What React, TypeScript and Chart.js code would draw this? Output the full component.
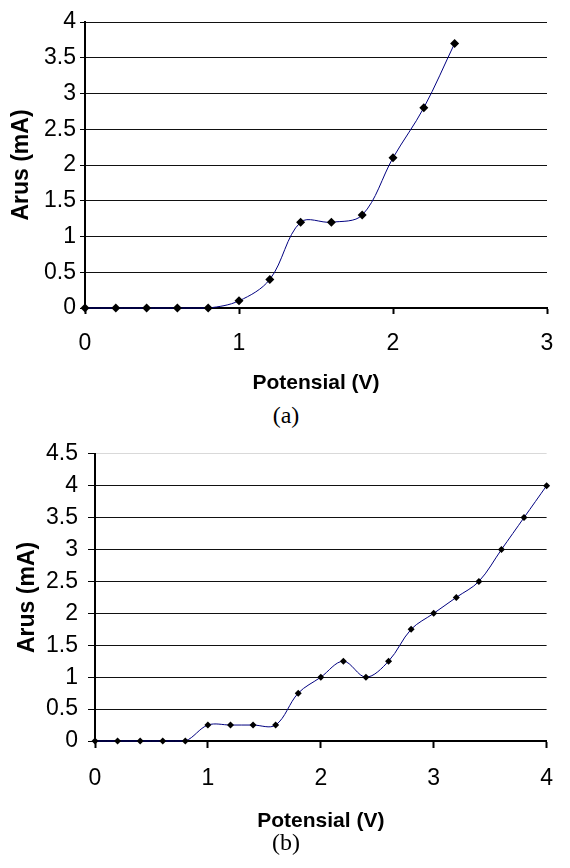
import React, { useEffect, useRef } from "react";
import { Chart, registerables } from "chart.js";

Chart.register(...registerables);

// ---- Data ----
const voltageA = [0, 0.2, 0.4, 0.6, 0.8, 1.0, 1.2, 1.4, 1.6, 1.8, 2.0, 2.2, 2.4];
const currentA = [0, 0, 0, 0, 0, 0.1, 0.4, 1.2, 1.2, 1.3, 2.1, 2.8, 3.7];

const voltageB = [0, 0.2, 0.4, 0.6, 0.8, 1.0, 1.2, 1.4, 1.6, 1.8, 2.0, 2.2, 2.4, 2.6, 2.8, 3.0, 3.2, 3.4, 3.6, 3.8, 4.0];
const currentB = [0, 0, 0, 0, 0, 0.25, 0.25, 0.25, 0.25, 0.75, 1, 1.25, 1, 1.25, 1.75, 2, 2.25, 2.5, 3, 3.5, 4];

const xTitle = "Potensial (V)";
const yTitle = "Arus (mA)";
const captionA = "(a)";
const captionB = "(b)";

const FONT = "'Liberation Sans', Arial, sans-serif";

type Geo = {
  width: number;
  height: number;
  padTop: number;
  padRight: number;
  yWidth: number;
  xHeight: number;
  xMax: number;
  yMax: number;
  yTickLen: number;
  yTickPad: number;
  xTickLen: number;
  xTickPad: number;
  yTitlePad: number;
  xTitlePad: number;
  pointR: number;
  topGridLight: boolean;
};

function makeConfig(xs: number[], ys: number[], g: Geo): any {
  const pts = xs.map((x, i) => ({ x, y: ys[i] }));
  return {
    type: "line",
    data: {
      datasets: [
        {
          data: pts,
          borderColor: "#000080",
          borderWidth: 1,
          tension: 0.35,
          pointStyle: "rectRot",
          pointRadius: g.pointR,
          pointBackgroundColor: "#000",
          pointBorderColor: "#000",
          pointBorderWidth: 0,
          clip: false,
          fill: false,
        },
      ],
    },
    options: {
      responsive: false,
      animation: false,
      devicePixelRatio: 1,
      layout: { padding: { top: g.padTop, right: g.padRight, left: 0, bottom: 0 } },
      plugins: { legend: { display: false }, tooltip: { enabled: false } },
      scales: {
        x: {
          type: "linear",
          min: 0,
          max: g.xMax,
          afterFit: (s: any) => {
            s.height = g.xHeight;
          },
          ticks: {
            stepSize: 1,
            color: "#000",
            padding: g.xTickPad,
            font: { family: FONT, size: 23 },
            callback: (v: any) => String(v),
          },
          grid: {
            drawOnChartArea: false,
            drawTicks: true,
            tickLength: g.xTickLen,
            tickColor: "#000",
            tickWidth: 2,
            color: "#000",
          },
          border: { display: true, color: "#000", width: 2 },
          title: {
            display: true,
            text: xTitle,
            color: "#000",
            font: { family: FONT, size: 21, weight: "bold" },
            padding: { top: 0, bottom: g.xTitlePad },
          },
        },
        y: {
          type: "linear",
          min: 0,
          max: g.yMax,
          afterFit: (s: any) => {
            s.width = g.yWidth;
          },
          ticks: {
            stepSize: 0.5,
            autoSkip: false,
            color: "#000",
            padding: g.yTickPad,
            font: { family: FONT, size: 23 },
            callback: (v: any) => String(v),
          },
          grid: {
            drawOnChartArea: true,
            drawTicks: true,
            tickLength: g.yTickLen,
            tickColor: "#000",
            color: (ctx: any) =>
              g.topGridLight && ctx.tick && ctx.tick.value === g.yMax ? "#d9d9d9" : "#111",
            lineWidth: 1,
          },
          border: { display: true, color: "#000", width: 2 },
          title: {
            display: true,
            text: yTitle,
            color: "#000",
            font: { family: FONT, size: 23, weight: "bold" },
            padding: { top: g.yTitlePad, bottom: 0 },
          },
        },
      },
    },
  };
}

function ChartCanvas({ xs, ys, g, top }: { xs: number[]; ys: number[]; g: Geo; top: number }) {
  const ref = useRef<HTMLCanvasElement | null>(null);
  useEffect(() => {
    if (!ref.current) return;
    const chart = new Chart(ref.current, makeConfig(xs, ys, g));
    return () => chart.destroy();
  }, []);
  return (
    <canvas
      ref={ref}
      width={g.width}
      height={g.height}
      style={{ position: "absolute", left: 0, top, width: g.width, height: g.height }}
    />
  );
}

const geoA: Geo = {
  width: 570,
  height: 400,
  padTop: 22,
  padRight: 23,
  yWidth: 85,
  xHeight: 92,
  xMax: 3,
  yMax: 4,
  yTickLen: 5,
  yTickPad: 4,
  xTickLen: 6,
  xTickPad: 16,
  yTitlePad: 8,
  xTitlePad: 4,
  pointR: 4.5,
  topGridLight: false,
};

const geoB: Geo = {
  width: 570,
  height: 410,
  padTop: 20,
  padRight: 8,
  yWidth: 95,
  xHeight: 99,
  xMax: 4,
  yMax: 4.5,
  yTickLen: 7,
  yTickPad: 10,
  xTickLen: 7,
  xTickPad: 17,
  yTitlePad: 14,
  xTitlePad: 6,
  pointR: 3.5,
  topGridLight: true,
};

const captionStyle = (top: number): React.CSSProperties => ({
  position: "absolute",
  left: 236,
  width: 100,
  top,
  textAlign: "center",
  fontFamily: "'Liberation Serif', 'Times New Roman', serif",
  fontSize: 24,
  lineHeight: "24px",
  color: "#000",
});

export default function App() {
  return (
    <div style={{ position: "absolute", left: 0, top: 0, width: 570, height: 868, background: "#fff" }}>
      <ChartCanvas xs={voltageA} ys={currentA} g={geoA} top={0} />
      <div style={captionStyle(403)}>{captionA}</div>
      <ChartCanvas xs={voltageB} ys={currentB} g={geoB} top={430} />
      <div style={captionStyle(830)}>{captionB}</div>
    </div>
  );
}
